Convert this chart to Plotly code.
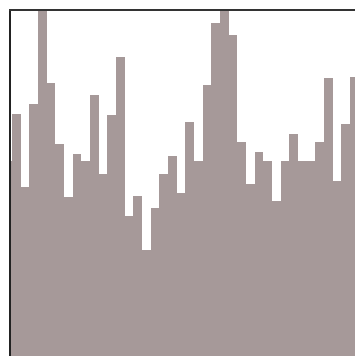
import plotly.graph_objects as go

# histogram bins (index) and bar heights
bins = list(range(41))
counts = [
    195, 242, 169, 252, 345, 273, 212, 159, 202, 195,
    261, 182, 241, 299, 140, 160, 106, 148, 182, 200,
    163, 234, 195, 271, 333, 345, 321, 214, 172, 204,
    195, 155, 195, 222, 195, 195, 214, 278, 175, 232,
    279,
]

BAR_COLOR = "#a69999"

fig = go.Figure(go.Bar(x=bins, y=counts, width=1, marker_color=BAR_COLOR,
                       marker_line_width=0))

fig.update_layout(
    width=355, height=356,
    margin=dict(l=11, r=0, t=11, b=0),
    plot_bgcolor="white", paper_bgcolor="white",
    bargap=0, showlegend=False,
)
fig.update_xaxes(range=[0.385, 40.08], side="top", showline=True, linecolor="#333",
                 linewidth=2, showgrid=False, zeroline=False, showticklabels=False,
                 ticks="")
fig.update_yaxes(range=[0, 345], showline=True, linecolor="#222", linewidth=2,
                 showgrid=False, zeroline=False, showticklabels=False, ticks="")

# page has a default 8px body margin; drop it so the figure sits at 0,0
fig.write_html("out.html", config={"displayModeBar": False},
               post_script="document.body.style.margin='0';"
                           "document.body.style.overflow='hidden';")
